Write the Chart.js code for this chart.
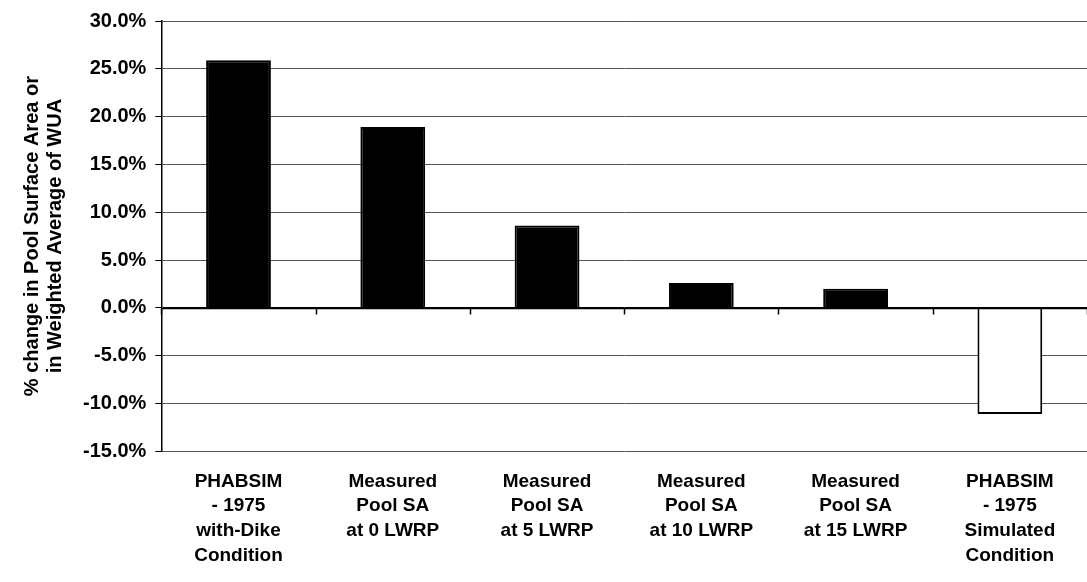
<!DOCTYPE html>
<html>
<head>
<meta charset="utf-8">
<script src="https://cdn.jsdelivr.net/npm/chart.js@4.4.0/dist/chart.umd.min.js"></script>
<style>
html,body{margin:0;padding:0;background:#fff;}
#wrap{width:1087px;height:582px;position:relative;}
</style>
</head>
<body>
<div id="wrap"><canvas id="c"></canvas></div>
<script>
const categories = [
  ["PHABSIM","- 1975","with-Dike","Condition"],
  ["Measured","Pool SA","at 0 LWRP"],
  ["Measured","Pool SA","at 5 LWRP"],
  ["Measured","Pool SA","at 10 LWRP"],
  ["Measured","Pool SA","at 15 LWRP"],
  ["PHABSIM","- 1975","Simulated","Condition"]
];
const values = [25.9, 18.9, 8.6, 2.6, 2.0, -11.1];
const barFill = ["#000","#000","#000","#000","#000","#fff"];
const yTitle = ["% change in Pool Surface Area or","in Weighted Average of WUA"];
const yMin = -15, yMax = 30, yStep = 5;

const FONT = 'Liberation Sans, Arial, sans-serif';

const zeroAxis = {
  id: 'zeroAxis',
  afterDatasetsDraw(chart) {
    const {ctx, scales:{x, y}} = chart;
    const y0 = Math.round(y.getPixelForValue(0)) + 0.5;
    ctx.save();
    ctx.strokeStyle = '#000';
    ctx.lineWidth = 1.5;
    ctx.beginPath();
    ctx.moveTo(x.left, y0); ctx.lineTo(x.right, y0);
    const n = categories.length;
    for (let i = 0; i <= n; i++) {
      let px;
      if (i === 0) px = x.left;
      else if (i === n) px = x.right;
      else px = (x.getPixelForValue(i-1) + x.getPixelForValue(i)) / 2;
      px = Math.round(px) + 0.5;
      ctx.moveTo(px, y0); ctx.lineTo(px, y0 + 6);
    }
    ctx.stroke();
    ctx.restore();
  }
};

new Chart(document.getElementById('c'), {
  type: 'bar',
  data: {
    labels: categories,
    datasets: [{
      data: values,
      backgroundColor: barFill,
      borderColor: '#000',
      borderWidth: 2,
      categoryPercentage: 1,
      barPercentage: 0.42
    }]
  },
  options: {
    responsive: true,
    maintainAspectRatio: false,
    animation: false,
    devicePixelRatio: 1,
    layout: { padding: { left: 21, right: 0, top: 8, bottom: 4 } },
    plugins: { legend: { display: false }, tooltip: { enabled: false } },
    scales: {
      x: {
        grid: { display: false },
        border: { display: false },
        ticks: {
          color: '#000',
          font: { family: FONT, size: 19, weight: 'bold', lineHeight: 1.3 },
          padding: 10,
          maxRotation: 0, autoSkip: false
        }
      },
      y: {
        min: yMin, max: yMax,
        ticks: {
          stepSize: yStep,
          color: '#000',
          font: { family: FONT, size: 20, weight: 'bold' },
          padding: 9,
          callback: v => v.toFixed(1) + '%'
        },
        grid: {
          color: ctx => ctx.tick && ctx.tick.value === 0 ? '#000' : '#555',
          lineWidth: 1,
          tickLength: 6,
          tickColor: '#000'
        },
        border: { display: true, color: '#000', width: 1.5 },
        title: {
          display: true,
          text: yTitle,
          color: '#000',
          font: { family: FONT, size: 20, weight: 'bold', lineHeight: 1.15 },
          padding: { top: 0, bottom: 7 }
        }
      }
    }
  },
  plugins: [zeroAxis]
});
</script>
</body>
</html>
